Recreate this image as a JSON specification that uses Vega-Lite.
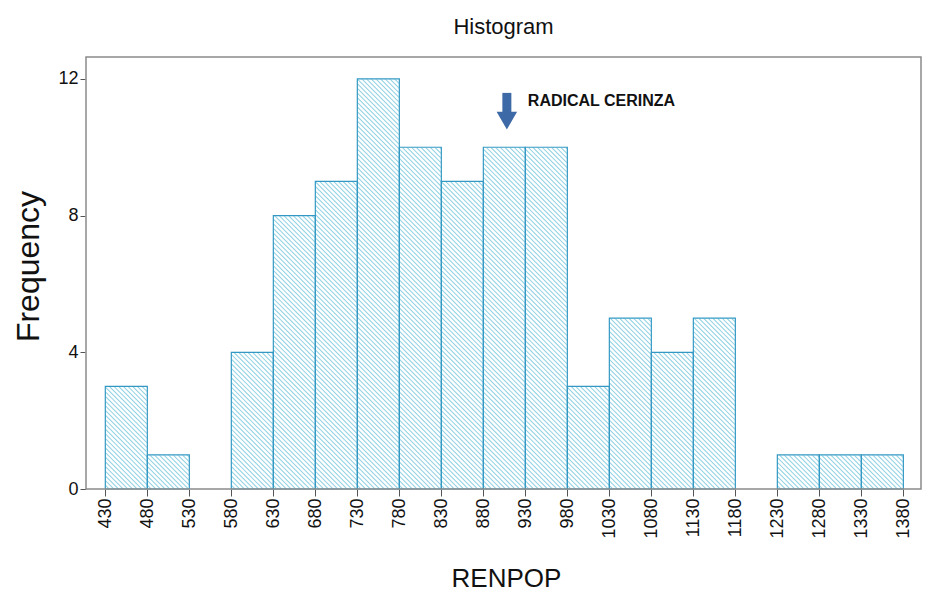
{
  "$schema": "https://vega.github.io/schema/vega-lite/v6.json",
  "width": 835,
  "height": 432,
  "autosize": {"type": "none"},
  "padding": {"left": 86, "top": 57, "right": 19, "bottom": 117},
  "background": "white",
  "config": {
    "view": {"stroke": null},
    "font": "Liberation Sans"
  },
  "title": {
    "text": "Histogram",
    "font": "Liberation Sans",
    "fontSize": 22,
    "fontWeight": "normal",
    "color": "#111111",
    "anchor": "middle",
    "offset": 17
  },
  "datasets": {
    "renpop": [
      {"bin_start": 430, "bin_end": 480, "count": 3},
      {"bin_start": 480, "bin_end": 530, "count": 1},
      {"bin_start": 530, "bin_end": 580, "count": 0},
      {"bin_start": 580, "bin_end": 630, "count": 4},
      {"bin_start": 630, "bin_end": 680, "count": 8},
      {"bin_start": 680, "bin_end": 730, "count": 9},
      {"bin_start": 730, "bin_end": 780, "count": 12},
      {"bin_start": 780, "bin_end": 830, "count": 10},
      {"bin_start": 830, "bin_end": 880, "count": 9},
      {"bin_start": 880, "bin_end": 930, "count": 10},
      {"bin_start": 930, "bin_end": 980, "count": 10},
      {"bin_start": 980, "bin_end": 1030, "count": 3},
      {"bin_start": 1030, "bin_end": 1080, "count": 5},
      {"bin_start": 1080, "bin_end": 1130, "count": 4},
      {"bin_start": 1130, "bin_end": 1180, "count": 5},
      {"bin_start": 1180, "bin_end": 1230, "count": 0},
      {"bin_start": 1230, "bin_end": 1280, "count": 1},
      {"bin_start": 1280, "bin_end": 1330, "count": 1},
      {"bin_start": 1330, "bin_end": 1380, "count": 1}
    ]
  },
  "data": {"name": "renpop"},
  "layer": [
    {
      "description": "Diagonal hatching: one wide dashed rule whose dashes form the stripes",
      "data": {"values": [{}]},
      "mark": {"type": "rule", "clip": true, "stroke": "#8fd0e3", "strokeWidth": 1300, "strokeDash": [1, 2.3], "strokeCap": "butt"},
      "encoding": {
        "x": {"datum": 407, "type": "quantitative", "scale": {"domain": [407, 1401], "nice": false, "zero": false}},
        "x2": {"datum": 1401},
        "y": {"datum": -5.9, "type": "quantitative", "scale": {"domain": [0, 12.64], "nice": false, "zero": false}},
        "y2": {"datum": 18.5}
      }
    },
    {
      "description": "White cover above each bar so the hatching only shows inside bars",
      "mark": {"type": "rect", "fill": "white", "stroke": "white", "strokeWidth": 1},
      "encoding": {
        "x": {"field": "bin_start", "type": "quantitative", "scale": {"domain": [407, 1401], "nice": false, "zero": false},
          "axis": {
            "values": [430, 480, 530, 580, 630, 680, 730, 780, 830, 880, 930, 980, 1030, 1080, 1130, 1180, 1230, 1280, 1330, 1380],
            "format": "d",
            "labelAngle": -90, "labelFontSize": 18, "labelColor": "#111111", "labelPadding": 2,
            "labelFlush": false, "labelOverlap": false,
            "tickColor": "#555555", "tickSize": 7, "domain": false, "grid": false,
            "title": "RENPOP", "titleFontSize": 26, "titleFontWeight": "normal", "titleColor": "#111111",
            "titleX": 420, "titleY": 89, "titleBaseline": "middle", "titleAlign": "center"
          }},
        "x2": {"field": "bin_end"},
        "y": {"field": "count", "type": "quantitative", "scale": {"domain": [0, 12.64], "nice": false, "zero": false},
          "axis": {
            "values": [0, 4, 8, 12], "format": "d",
            "labelFontSize": 18, "labelColor": "#111111", "labelPadding": 2,
            "tickColor": "#555555", "tickSize": 6, "domain": false, "grid": false,
            "title": "Frequency", "titleFontSize": 32, "titleFontWeight": "normal", "titleColor": "#111111",
            "titleX": -58, "titleY": 209, "titleBaseline": "middle", "titleAlign": "center"
          }},
        "y2": {"datum": 12.64}
      }
    },
    {
      "description": "White cover at the left and right plot margins",
      "data": {"values": [{}]},
      "layer": [
        {
          "mark": {"type": "rect", "fill": "white", "stroke": "white", "strokeWidth": 1},
          "encoding": {
            "x": {"datum": 407, "type": "quantitative"},
            "x2": {"datum": 430},
            "y": {"datum": 0, "type": "quantitative"},
            "y2": {"datum": 12.64}
          }
        },
        {
          "mark": {"type": "rect", "fill": "white", "stroke": "white", "strokeWidth": 1},
          "encoding": {
            "x": {"datum": 1380, "type": "quantitative"},
            "x2": {"datum": 1401},
            "y": {"datum": 0, "type": "quantitative"},
            "y2": {"datum": 12.64}
          }
        }
      ]
    },
    {
      "description": "Bar outlines",
      "transform": [{"filter": "datum.count > 0"}],
      "mark": {"type": "rect", "fill": null, "fillOpacity": 0, "stroke": "#3399c4", "strokeWidth": 1.2},
      "encoding": {
        "x": {"field": "bin_start", "type": "quantitative"},
        "x2": {"field": "bin_end"},
        "y": {"field": "count", "type": "quantitative"},
        "y2": {"datum": 0}
      }
    },
    {
      "description": "Plot frame",
      "data": {"values": [{}]},
      "mark": {"type": "rect", "fill": null, "fillOpacity": 0, "stroke": "#8a8a8a", "strokeWidth": 1.5},
      "encoding": {
        "x": {"datum": 407, "type": "quantitative"},
        "x2": {"datum": 1401},
        "y": {"datum": 0, "type": "quantitative"},
        "y2": {"datum": 12.64}
      }
    },
    {
      "description": "Arrow marking RADICAL CERINZA",
      "data": {"values": [{}]},
      "layer": [
        {
          "mark": {"type": "rule", "stroke": "#3d6aa6", "strokeWidth": 9, "strokeCap": "butt"},
          "encoding": {
            "x": {"datum": 908, "type": "quantitative"},
            "y": {"datum": 11.59, "type": "quantitative"},
            "y2": {"datum": 10.9}
          }
        },
        {
          "mark": {"type": "point", "shape": "triangle-down", "filled": true, "fill": "#3d6aa6", "fillOpacity": 1, "strokeWidth": 0, "size": 420},
          "encoding": {
            "x": {"datum": 908, "type": "quantitative"},
            "y": {"datum": 10.78, "type": "quantitative"}
          }
        },
        {
          "mark": {"type": "text", "text": "RADICAL CERINZA", "align": "left", "baseline": "middle", "font": "Liberation Sans", "fontSize": 16, "fontWeight": "bold", "color": "#111111"},
          "encoding": {
            "x": {"datum": 933, "type": "quantitative"},
            "y": {"datum": 11.35, "type": "quantitative"}
          }
        }
      ]
    }
  ]
}
